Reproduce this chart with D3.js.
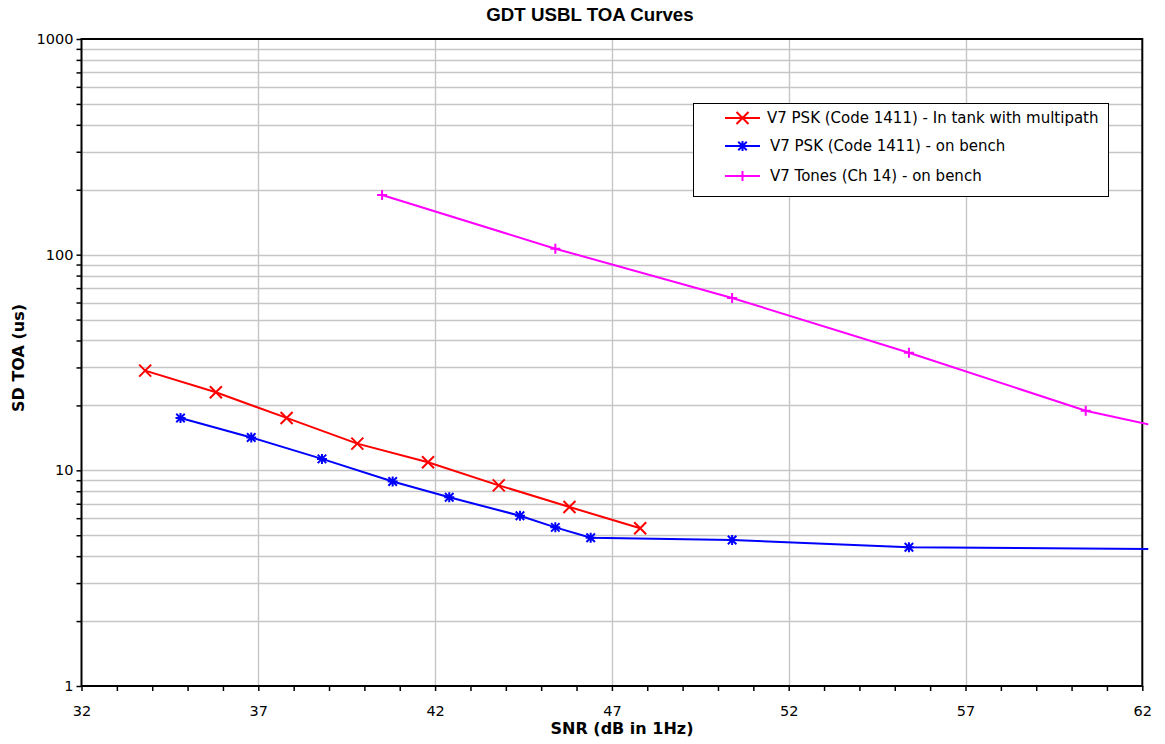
<!DOCTYPE html>
<html>
<head>
<meta charset="utf-8">
<script src="https://cdn.jsdelivr.net/npm/d3@7"></script>
<style>
  body { margin: 0; background: #fff; }
  svg { display: block; }
</style>
</head>
<body>
<svg id="chart" width="1165" height="744"></svg>
<script>
// ---- Data ----
const seriesNames = [
  "V7 PSK (Code 1411) - In tank with multipath",
  "V7 PSK (Code 1411) - on bench",
  "V7 Tones (Ch 14) - on bench"
];
const seriesColors = ["#ff0000", "#0000ff", "#ff00ff"];
const seriesMarkers = ["x", "asterisk", "plus"];

const redSNR  = [33.8, 35.8, 37.8, 39.8, 41.8, 43.8, 45.8, 47.8];
const redTOA  = [29.0, 23.0, 17.5, 13.3, 10.9, 8.52, 6.76, 5.39];

const blueSNR = [34.8, 36.8, 38.8, 40.8, 42.4, 44.4, 45.4, 46.4, 50.4, 55.4, 65.4];
const blueTOA = [17.5, 14.2, 11.3, 8.88, 7.50, 6.16, 5.44, 4.87, 4.75, 4.40, 4.28];

const magSNR  = [40.5, 45.4, 50.4, 55.4, 60.4, 65.4];
const magTOA  = [189, 106.6, 63.0, 35.1, 18.9, 12.5];

const xTickLabels = [32, 37, 42, 47, 52, 57, 62];
const yTickLabels = [1, 10, 100, 1000];

const titleText = "GDT USBL TOA Curves";
const xLabelText = "SNR (dB in 1Hz)";
const yLabelText = "SD TOA (us)";

// ---- Layout ----
const L = 81.5, R = 1142.3, T = 39, B = 686;
const svg = d3.select("#chart");
const x = d3.scaleLinear().domain([32, 62]).range([L, R]);
const y = d3.scaleLog().domain([1, 1000]).range([B, T]);

const font = "Tahoma, 'DejaVu Sans', sans-serif";

// Grid lines
const minorY = [];
for (let d = 1; d <= 100; d *= 10) for (let k = 1; k <= 9; k++) { const v = d * k; if (v > 1 && v < 1000) minorY.push(v); }
svg.append("g").selectAll("line").data(minorY).join("line")
  .attr("x1", L).attr("x2", R)
  .attr("y1", d => Math.round(y(d)) + 0.5).attr("y2", d => Math.round(y(d)) + 0.5)
  .attr("stroke", "#c6c6c6").attr("stroke-width", 1.4);
svg.append("g").selectAll("line").data(xTickLabels.slice(1, -1)).join("line")
  .attr("x1", d => Math.round(x(d)) + 0.5).attr("x2", d => Math.round(x(d)) + 0.5)
  .attr("y1", T).attr("y2", B)
  .attr("stroke", "#c6c6c6").attr("stroke-width", 1.4);

// Axes
const xAxisMinor = d3.axisBottom(x).tickValues(d3.range(32, 63, 1)).tickSize(5).tickFormat("");
svg.append("g").attr("transform", `translate(0,${B})`).call(xAxisMinor)
  .call(g => g.select(".domain").remove())
  .call(g => g.selectAll("line").attr("stroke", "#000").attr("stroke-width", 1.5));
const xAxis = d3.axisBottom(x).tickValues(xTickLabels).tickSize(0).tickPadding(20).tickFormat(d3.format("d"));
svg.append("g").attr("transform", `translate(0,${B})`).call(xAxis)
  .call(g => g.select(".domain").remove())
  .call(g => g.selectAll("text").attr("font-family", font).attr("font-size", 14.5).attr("fill", "#000"));

const yMinorAll = [1];
for (let d = 1; d <= 100; d *= 10) for (let k = 2; k <= 10; k++) yMinorAll.push(d * k);
const yAxisMinor = d3.axisLeft(y).tickValues(yMinorAll).tickSize(5).tickFormat("");
svg.append("g").attr("transform", `translate(${L},0)`).call(yAxisMinor)
  .call(g => g.select(".domain").remove())
  .call(g => g.selectAll("line").attr("stroke", "#000").attr("stroke-width", 1.5));
const yAxis = d3.axisLeft(y).tickValues(yTickLabels).tickSize(0).tickPadding(8).tickFormat(d3.format("d"));
svg.append("g").attr("transform", `translate(${L},0)`).call(yAxis)
  .call(g => g.select(".domain").remove())
  .call(g => g.selectAll("text").attr("font-family", font).attr("font-size", 14.5).attr("fill", "#000"));

// Plot frame
svg.append("rect").attr("x", L).attr("y", T).attr("width", R - L).attr("height", B - T)
  .attr("fill", "none").attr("stroke", "#000").attr("stroke-width", 2);

// Clip
svg.append("clipPath").attr("id", "clip").append("rect")
  .attr("x", L - 8).attr("y", T - 8).attr("width", R - L + 14).attr("height", B - T + 16);

// Marker drawing
function drawMarker(g, type, color, s) {
  const p = g.append("path").attr("fill", "none").attr("stroke", color).attr("stroke-width", 2);
  if (type === "x") p.attr("d", `M${-s},${-s}L${s},${s}M${-s},${s}L${s},${-s}`);
  else if (type === "plus") p.attr("d", `M${-s},0L${s},0M0,${-s}L0,${s}`);
  else {
    const a = s * 0.85;
    p.attr("d", `M${-s},0L${s},0M0,${-s}L0,${s}M${-a},${-a}L${a},${a}M${-a},${a}L${a},${-a}`);
  }
}
const markerSize = { x: 6, asterisk: 5, plus: 5 };

const series = [
  { xs: redSNR, ys: redTOA },
  { xs: blueSNR, ys: blueTOA },
  { xs: magSNR, ys: magTOA }
];
const line = d3.line().x(d => x(d[0])).y(d => y(d[1]));
const plot = svg.append("g").attr("clip-path", "url(#clip)");
series.forEach((s, i) => {
  const pts = s.xs.map((v, j) => [v, s.ys[j]]);
  plot.append("path").datum(pts).attr("d", line)
    .attr("fill", "none").attr("stroke", seriesColors[i]).attr("stroke-width", 2);
  pts.forEach(p => {
    if (p[0] > 62.2) return;
    const g = plot.append("g").attr("transform", `translate(${x(p[0])},${y(p[1])})`);
    drawMarker(g, seriesMarkers[i], seriesColors[i], markerSize[seriesMarkers[i]]);
  });
});

// Legend
const lg = svg.append("g");
lg.append("rect").attr("x", 693.5).attr("y", 103.5).attr("width", 415).attr("height", 93)
  .attr("fill", "#fff").attr("stroke", "#000").attr("stroke-width", 1);
const legY = [118, 146, 176];
const legTextX = [767, 770, 770];
seriesNames.forEach((n, i) => {
  lg.append("line").attr("x1", 725).attr("x2", 760).attr("y1", legY[i]).attr("y2", legY[i])
    .attr("stroke", seriesColors[i]).attr("stroke-width", 2);
  const g = lg.append("g").attr("transform", `translate(742.5,${legY[i]})`);
  drawMarker(g, seriesMarkers[i], seriesColors[i], markerSize[seriesMarkers[i]]);
  lg.append("text").attr("x", legTextX[i]).attr("y", legY[i]).attr("dy", "0.35em")
    .attr("font-family", font).attr("font-size", 15).attr("fill", "#000").text(n);
});

// Title and labels
svg.append("text").attr("x", 590).attr("y", 21).attr("text-anchor", "middle")
  .attr("font-family", "'Liberation Sans', Arial, sans-serif").attr("font-weight", "bold")
  .attr("font-size", 18.7).text(titleText);
svg.append("text").attr("x", 622).attr("y", 734).attr("text-anchor", "middle")
  .attr("font-family", font).attr("font-weight", "bold").attr("font-size", 16).text(xLabelText);
svg.append("text").attr("transform", "translate(24,358) rotate(-90)").attr("text-anchor", "middle")
  .attr("font-family", font).attr("font-weight", "bold").attr("font-size", 16).text(yLabelText);
</script>
</body>
</html>
